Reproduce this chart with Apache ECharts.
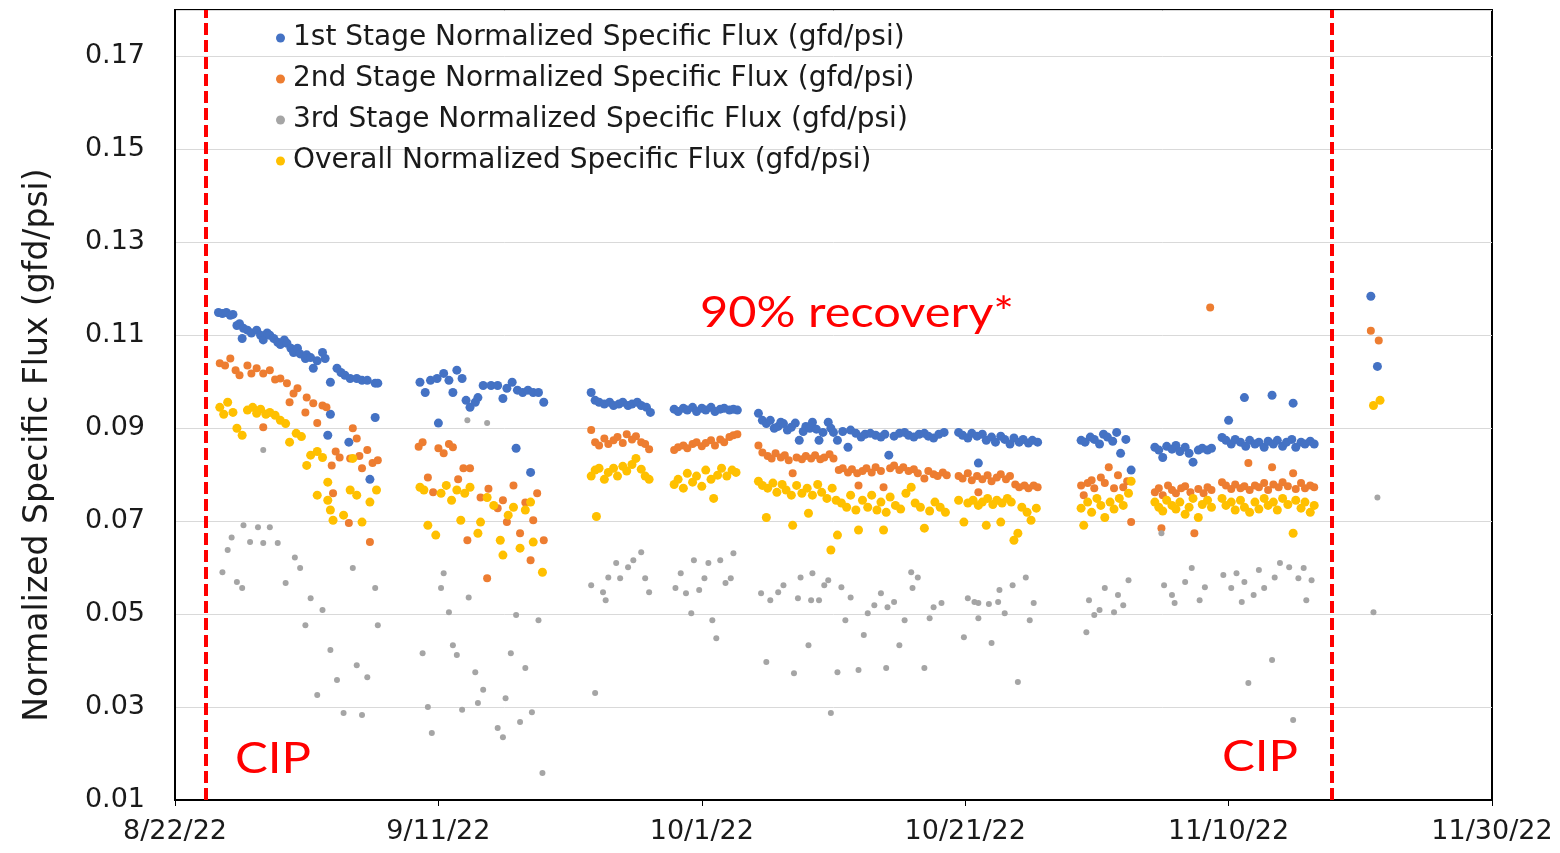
<!DOCTYPE html>
<html>
<head>
<meta charset="utf-8">
<script src="https://cdn.jsdelivr.net/npm/echarts@6/dist/echarts.min.js"></script>
<style>
  html, body { margin: 0; padding: 0; background: #fff; }
  #chart { width: 1560px; height: 853px; }
</style>
</head>
<body>
<div id="chart"></div>
<script>
// x = days since 8/22/22
const xTickLabels = ['8/22/22', '9/11/22', '10/1/22', '10/21/22', '11/10/22', '11/30/22'];
const cipDays = [2.3, 87.8];

const stage1 = [
  [3.3,0.1149],[3.6,0.1147],[3.9,0.1149],[4.2,0.1143],[4.4,0.1145],[4.7,0.1121],[4.9,0.1125],[5.1,0.1093],[5.2,0.1115],[5.5,0.1111],
  [5.8,0.1105],[6.2,0.1111],[6.5,0.1100],[6.7,0.1090],[7.0,0.1105],[7.2,0.1100],[7.5,0.1093],[7.8,0.1085],[8.0,0.1080],[8.3,0.1090],
  [8.5,0.1083],[8.8,0.1072],[9.0,0.1063],[9.3,0.1072],[9.5,0.1060],[9.9,0.1050],[10.0,0.1058],[10.3,0.1052],[10.5,0.1029],[10.8,0.1045],
  [11.2,0.1063],[11.4,0.1050],[11.8,0.0999],[12.3,0.1029],[12.6,0.1020],[12.9,0.1014],[13.3,0.1007],[13.8,0.1007],[14.2,0.1003],[14.6,0.1003],
  [15.2,0.0997],[15.4,0.0997],[11.8,0.0930],[15.2,0.0923],[11.6,0.0885],[13.2,0.0870],[14.8,0.0790],
  [18.6,0.0999],[19.0,0.0977],[19.4,0.1003],[19.9,0.1007],[20.4,0.1018],[20.8,0.1003],[21.1,0.0977],[21.4,0.1025],[21.8,0.1007],[22.1,0.0960],
  [22.4,0.0945],[22.8,0.0956],[23.0,0.0966],[23.4,0.0992],[24.0,0.0992],[24.5,0.0992],[24.9,0.0964],[25.2,0.0986],[25.6,0.0999],[26.0,0.0982],
  [26.4,0.0977],[26.8,0.0982],[27.2,0.0977],[27.6,0.0977],[28.0,0.0956],[20.0,0.0911],[25.9,0.0857],[27.0,0.0805],
  [31.6,0.0977],[31.9,0.0960],[32.2,0.0956],[32.6,0.0952],[33.0,0.0956],[33.3,0.0949],[33.7,0.0952],[34.0,0.0956],[34.4,0.0949],[34.7,0.0952],
  [35.1,0.0956],[35.4,0.0949],[35.8,0.0945],[36.1,0.0934],
  [37.9,0.0941],[38.2,0.0936],[38.6,0.0943],[38.9,0.0939],[39.3,0.0945],[39.6,0.0936],[40.0,0.0943],[40.3,0.0939],[40.7,0.0945],[41.0,0.0936],
  [41.4,0.0941],[41.7,0.0943],[42.1,0.0939],[42.4,0.0941],[42.7,0.0939],
  [44.3,0.0932],[44.6,0.0917],[44.9,0.0910],[45.2,0.0917],[45.5,0.0900],[45.8,0.0904],[46.0,0.0913],[46.2,0.0910],[46.5,0.0896],[46.8,0.0902],
  [47.1,0.0911],[47.4,0.0874],[47.7,0.0893],[47.9,0.0904],[48.2,0.0900],[48.4,0.0913],[48.7,0.0898],[48.9,0.0874],[49.2,0.0891],[49.6,0.0913],
  [49.8,0.0900],[50.0,0.0891],[50.3,0.0874],[50.7,0.0893],[51.1,0.0859],[51.3,0.0896],[51.7,0.0889],[52.1,0.0881],[52.4,0.0887],[52.8,0.0889],
  [53.2,0.0885],[53.6,0.0881],[53.9,0.0887],[54.2,0.0842],[54.6,0.0883],[55.0,0.0889],[55.4,0.0891],[55.7,0.0885],[56.1,0.0881],[56.5,0.0887],
  [56.9,0.0889],[57.2,0.0883],[57.6,0.0879],[58.0,0.0887],[58.4,0.0891],
  [59.5,0.0891],[59.8,0.0885],[60.2,0.0879],[60.5,0.0889],[60.9,0.0883],[61.0,0.0825],[61.3,0.0887],[61.6,0.0874],[62.0,0.0881],[62.3,0.0870],
  [62.7,0.0883],[63.0,0.0876],[63.4,0.0866],[63.7,0.0879],[64.1,0.0870],[64.4,0.0876],[64.8,0.0868],[65.1,0.0874],[65.5,0.0870],
  [68.8,0.0874],[69.1,0.0870],[69.5,0.0881],[69.8,0.0876],[70.2,0.0866],[70.5,0.0887],[70.8,0.0881],[71.2,0.0872],[71.5,0.0891],[71.8,0.0846],
  [72.2,0.0876],[72.6,0.0810],
  [74.4,0.0859],[74.7,0.0853],[75.0,0.0837],[75.3,0.0861],[75.7,0.0855],[76.0,0.0863],[76.3,0.0850],[76.7,0.0859],[77.0,0.0846],[77.3,0.0827],
  [77.7,0.0853],[78.0,0.0857],[78.4,0.0853],[78.7,0.0857],
  [79.5,0.0880],[79.8,0.0874],[80.0,0.0917],[80.2,0.0866],[80.5,0.0876],[80.9,0.0870],[81.2,0.0966],[81.3,0.0861],[81.6,0.0874],[82.0,0.0866],
  [82.3,0.0870],[82.7,0.0859],[83.0,0.0872],[83.3,0.0971],[83.4,0.0866],[83.7,0.0874],[84.1,0.0861],[84.4,0.0870],[84.8,0.0876],[84.9,0.0954],
  [85.1,0.0859],[85.5,0.0870],[85.8,0.0866],[86.2,0.0872],[86.5,0.0866],
  [90.8,0.1184],[91.3,0.1033]
];

const stage2 = [
  [3.4,0.1040],[3.8,0.1035],[4.2,0.1050],[4.6,0.1025],[4.9,0.1014],[5.5,0.1035],[5.8,0.1018],[6.2,0.1029],[6.7,0.1018],[7.2,0.1025],
  [7.6,0.1005],[8.0,0.1007],[8.5,0.0997],[9.0,0.0975],[9.3,0.0986],[8.7,0.0956],[10.0,0.0966],[10.5,0.0954],[11.2,0.0949],[11.5,0.0945],
  [9.9,0.0934],[10.8,0.0911],[6.7,0.0902],[13.5,0.0900],[13.8,0.0878],[11.9,0.0820],[12.2,0.0850],[12.5,0.0837],[13.3,0.0835],[14.0,0.0840],
  [14.6,0.0853],[15.0,0.0825],[15.4,0.0831],[14.2,0.0814],[12.0,0.0760],[13.2,0.0696],[14.8,0.0655],
  [18.5,0.0860],[18.8,0.0870],[20.0,0.0857],[20.8,0.0866],[21.1,0.0859],[20.4,0.0846],[21.9,0.0814],[19.2,0.0794],[22.4,0.0814],[21.5,0.0790],
  [25.7,0.0777],[19.6,0.0762],[23.2,0.0751],[23.8,0.0770],[24.5,0.0728],[24.9,0.0745],[27.5,0.0760],[26.6,0.0740],[27.2,0.0702],[22.2,0.0659],
  [23.7,0.0577],[27.0,0.0616],[28.0,0.0659],[26.2,0.0674],[25.2,0.0698],
  [31.6,0.0896],[31.9,0.0870],[32.2,0.0863],[32.6,0.0878],[32.9,0.0866],[33.3,0.0874],[33.6,0.0881],[34.0,0.0868],[34.3,0.0887],[34.7,0.0876],
  [35.0,0.0883],[35.4,0.0870],[35.7,0.0866],[36.0,0.0855],
  [37.9,0.0853],[38.2,0.0859],[38.6,0.0863],[38.9,0.0857],[39.3,0.0866],[39.6,0.0870],[40.0,0.0861],[40.3,0.0868],[40.7,0.0874],[41.0,0.0863],
  [41.4,0.0876],[41.7,0.0870],[42.1,0.0881],[42.4,0.0885],[42.7,0.0887],
  [44.3,0.0863],[44.6,0.0848],[45.0,0.0840],[45.3,0.0835],[45.6,0.0846],[46.0,0.0837],[46.3,0.0842],[46.6,0.0831],[46.9,0.0803],[47.2,0.0837],
  [47.6,0.0833],[47.9,0.0840],[48.3,0.0835],[48.6,0.0842],[49.0,0.0833],[49.3,0.0837],[49.7,0.0844],[50.0,0.0835],[50.4,0.0810],[50.7,0.0814],
  [51.1,0.0805],[51.4,0.0812],[51.8,0.0803],[51.9,0.0777],[52.2,0.0808],[52.5,0.0814],[52.9,0.0805],[53.2,0.0816],[53.6,0.0808],[53.8,0.0773],
  [54.3,0.0814],[54.6,0.0820],[55.0,0.0810],[55.3,0.0816],[55.7,0.0808],[56.1,0.0812],[56.4,0.0803],[56.9,0.0792],[57.2,0.0808],[57.6,0.0801],
  [57.9,0.0797],[58.3,0.0805],[58.6,0.0799],
  [59.5,0.0797],[59.8,0.0792],[60.2,0.0803],[60.5,0.0788],[60.9,0.0797],[61.0,0.0762],[61.3,0.0790],[61.7,0.0799],[62.0,0.0786],[62.4,0.0794],
  [62.7,0.0801],[63.1,0.0790],[63.4,0.0797],[63.8,0.0779],[64.1,0.0773],[64.5,0.0777],[64.8,0.0771],[65.2,0.0777],[65.5,0.0773],
  [68.8,0.0777],[69.0,0.0756],[69.3,0.0782],[69.6,0.0788],[69.8,0.0771],[70.3,0.0794],[70.6,0.0782],[70.9,0.0816],[71.3,0.0771],[71.6,0.0799],
  [72.0,0.0773],[72.3,0.0786],[72.6,0.0698],
  [74.4,0.0762],[74.7,0.0771],[74.9,0.0685],[75.0,0.0756],[75.4,0.0777],[75.7,0.0767],[76.0,0.0760],[76.4,0.0771],[76.7,0.0775],[77.1,0.0762],
  [77.4,0.0674],[77.7,0.0769],[78.1,0.0760],[78.4,0.0773],[78.7,0.0767],[78.6,0.1160],
  [79.5,0.0784],[79.8,0.0777],[80.2,0.0769],[80.5,0.0779],[80.9,0.0771],[81.2,0.0775],[81.5,0.0825],[81.6,0.0767],[82.0,0.0777],[82.3,0.0773],
  [82.7,0.0782],[83.0,0.0767],[83.3,0.0816],[83.4,0.0779],[83.8,0.0773],[84.1,0.0784],[84.5,0.0775],[84.9,0.0803],[85.1,0.0769],[85.5,0.0782],
  [85.8,0.0771],[86.2,0.0777],[86.5,0.0773],
  [90.8,0.1110],[91.4,0.1089]
];

const stage3 = [
  [5.2,0.0691],[6.3,0.0687],[7.2,0.0687],[4.3,0.0665],[5.7,0.0655],[6.7,0.0653],[7.8,0.0653],[4.0,0.0638],[3.6,0.0590],[4.7,0.0569],
  [5.1,0.0556],[9.1,0.0622],[9.5,0.0599],[8.4,0.0567],[10.3,0.0534],[11.2,0.0509],[9.9,0.0476],[15.4,0.0476],[13.5,0.0599],[15.2,0.0556],
  [11.8,0.0423],[13.8,0.0390],[14.6,0.0364],[12.3,0.0358],[10.8,0.0326],[12.8,0.0287],[14.2,0.0283],[6.7,0.0853],
  [22.2,0.0917],[23.7,0.0911],[20.4,0.0588],[20.2,0.0556],[22.3,0.0536],[20.8,0.0504],[25.9,0.0498],[27.6,0.0487],[18.8,0.0416],[21.1,0.0433],
  [21.4,0.0412],[22.8,0.0375],[23.4,0.0337],[23.0,0.0309],[25.1,0.0319],[26.6,0.0384],[25.5,0.0416],[19.2,0.0300],[21.8,0.0294],[19.5,0.0244],
  [26.2,0.0268],[27.1,0.0289],[24.5,0.0255],[24.9,0.0235],[27.9,0.0158],
  [31.6,0.0562],[32.5,0.0547],[32.7,0.0530],[32.9,0.0579],[33.5,0.0610],[33.8,0.0577],[34.4,0.0601],[34.8,0.0616],[35.4,0.0633],[35.7,0.0577],
  [36.0,0.0547],[31.9,0.0330],
  [38.0,0.0556],[38.4,0.0588],[38.8,0.0545],[39.4,0.0616],[39.8,0.0552],[40.2,0.0577],[40.5,0.0610],[41.4,0.0616],[41.8,0.0567],[42.2,0.0577],
  [42.4,0.0631],[39.2,0.0502],[40.8,0.0487],[41.1,0.0448],
  [44.5,0.0545],[45.2,0.0530],[45.8,0.0547],[46.2,0.0562],[47.5,0.0579],[47.3,0.0534],[48.4,0.0588],[48.3,0.0530],[48.9,0.0530],[49.6,0.0573],
  [49.3,0.0562],[50.6,0.0558],[51.3,0.0536],[50.9,0.0487],[52.3,0.0455],[52.6,0.0502],[53.1,0.0519],[53.6,0.0545],[54.1,0.0515],[54.6,0.0526],
  [55.4,0.0487],[55.9,0.0590],[56.4,0.0579],[56.0,0.0556],[57.3,0.0491],[57.6,0.0515],[58.2,0.0524],[48.1,0.0433],[44.9,0.0397],[47.0,0.0373],
  [50.3,0.0375],[51.9,0.0380],[54.0,0.0384],[56.9,0.0384],[55.0,0.0433],[49.8,0.0287],
  [59.9,0.0450],[60.7,0.0526],[60.2,0.0534],[61.0,0.0524],[61.8,0.0522],[62.5,0.0526],[61.0,0.0491],[63.0,0.0502],[62.6,0.0552],[63.6,0.0562],
  [64.6,0.0579],[65.2,0.0524],[64.9,0.0487],[62.0,0.0438],[64.0,0.0354],
  [69.4,0.0530],[69.8,0.0498],[70.2,0.0509],[70.6,0.0556],[71.6,0.0541],[71.3,0.0504],[72.0,0.0519],[72.4,0.0573],[69.2,0.0461],
  [75.1,0.0562],[75.7,0.0541],[75.9,0.0524],[76.7,0.0569],[77.2,0.0599],[77.8,0.0530],[78.2,0.0558],[74.9,0.0674],
  [79.6,0.0584],[80.2,0.0556],[80.6,0.0588],[81.0,0.0526],[81.2,0.0569],[81.9,0.0541],[82.3,0.0595],[82.7,0.0556],[83.5,0.0579],[83.9,0.0610],
  [84.6,0.0601],[85.3,0.0577],[85.7,0.0599],[85.9,0.0530],[86.3,0.0573],[83.3,0.0401],[81.5,0.0352],[84.9,0.0272],
  [91.3,0.0751],[91.0,0.0504]
];

const overall = [
  [3.4,0.0945],[3.7,0.0930],[4.0,0.0956],[4.4,0.0934],[4.7,0.0900],[5.1,0.0885],[5.5,0.0939],[5.9,0.0945],[6.2,0.0932],[6.5,0.0941],
  [6.9,0.0930],[7.2,0.0934],[7.6,0.0928],[8.0,0.0917],[8.4,0.0910],[8.7,0.0870],[9.2,0.0889],[9.6,0.0882],[10.3,0.0842],[10.8,0.0850],
  [11.2,0.0837],[10.0,0.0820],[11.6,0.0784],[10.8,0.0756],[11.6,0.0745],[11.8,0.0724],[12.0,0.0702],[12.8,0.0713],[13.3,0.0767],[13.8,0.0756],
  [14.2,0.0698],[14.8,0.0741],[15.3,0.0767],[13.5,0.0835],
  [18.6,0.0773],[18.9,0.0767],[20.2,0.0760],[20.6,0.0777],[21.4,0.0767],[22.0,0.0760],[22.4,0.0773],[23.7,0.0751],[19.2,0.0691],[19.8,0.0670],
  [21.0,0.0745],[21.7,0.0702],[23.2,0.0698],[23.0,0.0674],[24.2,0.0734],[24.7,0.0659],[24.9,0.0627],[25.3,0.0713],[26.2,0.0642],[27.2,0.0655],
  [27.9,0.0590],[25.7,0.0730],[27.0,0.0741],[26.6,0.0724],
  [31.6,0.0797],[31.9,0.0810],[32.2,0.0814],[32.6,0.0790],[32.9,0.0805],[33.3,0.0814],[33.6,0.0797],[34.0,0.0818],[34.3,0.0808],[34.7,0.0822],
  [35.0,0.0835],[35.4,0.0812],[35.7,0.0797],[36.0,0.0790],[32.0,0.0710],
  [37.9,0.0779],[38.2,0.0790],[38.6,0.0771],[38.9,0.0803],[39.3,0.0784],[39.6,0.0797],[40.0,0.0775],[40.3,0.0810],[40.7,0.0790],[40.9,0.0749],
  [41.2,0.0799],[41.5,0.0814],[41.9,0.0797],[42.3,0.0810],[42.6,0.0805],
  [44.3,0.0786],[44.6,0.0777],[44.9,0.0708],[45.0,0.0771],[45.4,0.0782],[45.7,0.0762],[46.1,0.0779],[46.4,0.0767],[46.8,0.0756],[46.9,0.0691],
  [47.2,0.0777],[47.6,0.0760],[48.0,0.0771],[48.1,0.0717],[48.4,0.0756],[48.8,0.0779],[49.1,0.0762],[49.5,0.0749],[49.8,0.0638],[49.9,0.0771],
  [50.2,0.0745],[50.3,0.0670],[50.6,0.0739],[51.0,0.0730],[51.3,0.0756],[51.7,0.0724],[51.9,0.0681],[52.2,0.0745],[52.6,0.0730],[52.9,0.0756],
  [53.3,0.0724],[53.6,0.0741],[53.8,0.0681],[54.0,0.0719],[54.3,0.0752],[54.7,0.0734],[55.1,0.0726],[55.5,0.0760],[55.9,0.0773],[56.2,0.0739],
  [56.6,0.0730],[56.9,0.0685],[57.3,0.0722],[57.7,0.0741],[58.1,0.0730],[58.5,0.0719],
  [59.5,0.0745],[59.9,0.0698],[60.2,0.0739],[60.6,0.0745],[61.0,0.0734],[61.3,0.0741],[61.6,0.0691],[61.7,0.0749],[62.1,0.0736],[62.4,0.0745],
  [62.7,0.0698],[62.8,0.0739],[63.2,0.0749],[63.5,0.0741],[63.7,0.0659],[64.0,0.0674],[64.3,0.0730],[64.7,0.0719],[65.0,0.0702],[65.4,0.0728],
  [68.8,0.0728],[69.0,0.0691],[69.3,0.0741],[69.6,0.0719],[70.0,0.0749],[70.3,0.0734],[70.6,0.0708],[71.0,0.0741],[71.3,0.0726],[71.7,0.0749],
  [72.0,0.0734],[72.4,0.0760],[72.6,0.0786],
  [74.4,0.0741],[74.7,0.0730],[75.0,0.0722],[75.3,0.0745],[75.7,0.0734],[76.0,0.0726],[76.3,0.0741],[76.7,0.0715],[77.0,0.0730],[77.3,0.0749],
  [77.7,0.0708],[78.0,0.0736],[78.4,0.0745],[78.7,0.0730],
  [79.5,0.0749],[79.8,0.0734],[80.2,0.0741],[80.5,0.0724],[80.9,0.0745],[81.2,0.0730],[81.6,0.0719],[82.0,0.0741],[82.3,0.0726],[82.7,0.0749],
  [83.0,0.0734],[83.4,0.0741],[83.7,0.0724],[84.1,0.0749],[84.5,0.0736],[84.9,0.0674],[85.1,0.0745],[85.5,0.0728],[85.8,0.0741],[86.2,0.0719],
  [86.5,0.0734],
  [91.0,0.0949],[91.5,0.0960]
];

// the original text is rendered wide, DejaVu Sans is the closest in width
const FONT = '"DejaVu Sans", "Liberation Sans", sans-serif';
const RED_FONT = '42px Lato, "Open Sans", sans-serif';
const chart = echarts.init(document.getElementById('chart'));

function scatter(name, data, color, size) {
  return {
    name: name,
    type: 'scatter',
    data: data,
    symbol: 'circle',
    symbolSize: size,
    itemStyle: { color: color, opacity: 1 },
    emphasis: { disabled: true },
    animation: false
  };
}

const cipSeries = scatter('cip', [], '#ff0000', 0);
cipSeries.markLine = {
  silent: true,
  symbol: 'none',
  label: { show: false },
  lineStyle: { color: '#ff0000', width: 4, type: [12, 5] },
  data: cipDays.map(d => ({ xAxis: d }))
};

chart.setOption({
  backgroundColor: '#fff',
  animation: false,
  grid: {
    left: 175, right: 68, top: 10, bottom: 53,
    show: true, borderColor: '#000', borderWidth: 2
  },
  legend: {
    orient: 'vertical',
    left: 271, top: 19,
    itemGap: 13,
    itemWidth: 9, itemHeight: 9,
    icon: 'circle',
    data: [
      '1st Stage Normalized Specific Flux (gfd/psi)',
      '2nd Stage Normalized Specific Flux (gfd/psi)',
      '3rd Stage Normalized Specific Flux (gfd/psi)',
      'Overall Normalized Specific Flux (gfd/psi)'
    ],
    textStyle: { fontFamily: FONT, fontSize: 28, color: '#1a1a1a', padding: [0, 0, 0, 3] }
  },
  xAxis: {
    type: 'value',
    min: 0, max: 100, interval: 20,
    axisLine: { lineStyle: { color: '#000', width: 2 } },
    axisTick: { show: true, length: 6, lineStyle: { color: '#000' } },
    splitLine: { show: false },
    axisLabel: {
      fontFamily: FONT, fontSize: 27, color: '#1a1a1a', margin: 18,
      formatter: v => xTickLabels[Math.round(v / 20)]
    }
  },
  yAxis: {
    type: 'value',
    min: 0.01, max: 0.18, interval: 0.02,
    name: 'Normalized Specific Flux (gfd/psi)',
    nameLocation: 'middle',
    nameGap: 120,
    nameTextStyle: { fontFamily: FONT, fontSize: 33, color: '#1a1a1a', padding: [0, 80, 0, 0] },
    axisLine: { show: true, lineStyle: { color: '#000', width: 2 } },
    axisTick: { show: false },
    splitLine: { show: true, lineStyle: { color: '#d9d9d9', width: 1 } },
    axisLabel: {
      fontFamily: FONT, fontSize: 27, color: '#1a1a1a', margin: 30,
      showMaxLabel: false,
      formatter: v => v.toFixed(2)
    }
  },
  graphic: [
    { type: 'text', x: 700, y: 292, scaleX: 1.16, style: { text: '90% recovery*', fill: '#ff0000', font: RED_FONT } },
    { type: 'text', x: 235, y: 738, scaleX: 1.17, style: { text: 'CIP', fill: '#ff0000', font: RED_FONT } },
    { type: 'text', x: 1222, y: 736, scaleX: 1.17, style: { text: 'CIP', fill: '#ff0000', font: RED_FONT } }
  ],
  series: [
    scatter('1st Stage Normalized Specific Flux (gfd/psi)', stage1, '#4472c4', 9),
    scatter('2nd Stage Normalized Specific Flux (gfd/psi)', stage2, '#ed7d31', 8),
    scatter('3rd Stage Normalized Specific Flux (gfd/psi)', stage3, '#a5a5a5', 6),
    scatter('Overall Normalized Specific Flux (gfd/psi)', overall, '#ffc000', 9),
    cipSeries
  ]
});
</script>
</body>
</html>
